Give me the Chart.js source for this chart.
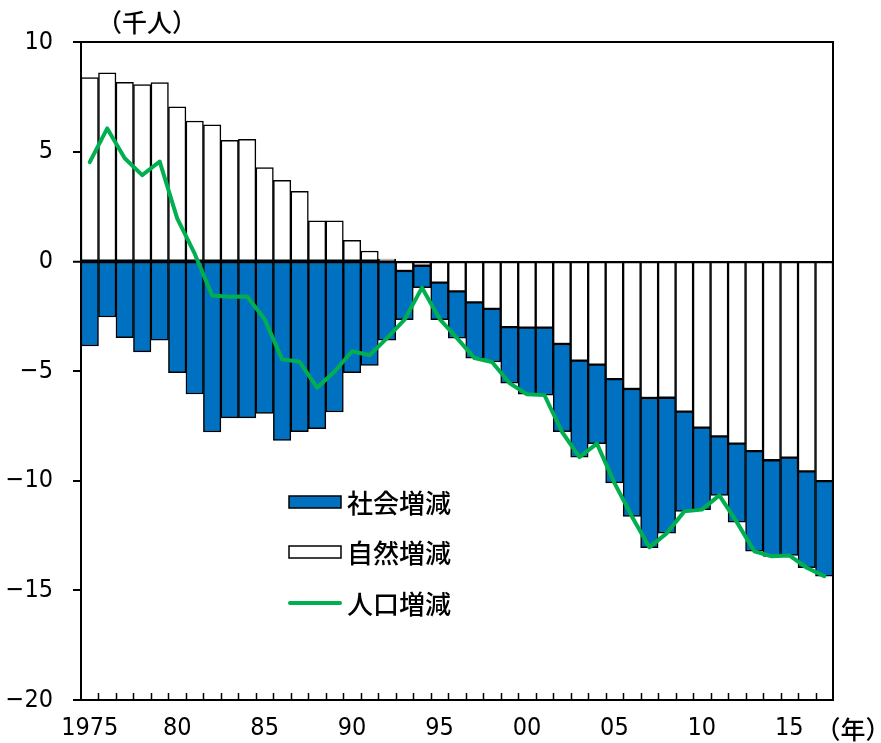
<!DOCTYPE html>
<html>
<head>
<meta charset="utf-8">
<script src="https://cdn.jsdelivr.net/npm/chart.js@4/dist/chart.umd.min.js"></script>
<style>
html,body{margin:0;padding:0;background:#fff;}
canvas{display:block;}
</style>
</head>
<body>
<canvas id="c" width="881" height="743"></canvas>
<script>
const years = [1975,1976,1977,1978,1979,1980,1981,1982,1983,1984,1985,1986,1987,1988,1989,1990,1991,1992,1993,1994,1995,1996,1997,1998,1999,2000,2001,2002,2003,2004,2005,2006,2007,2008,2009,2010,2011,2012,2013,2014,2015,2016,2017];
const xTickLabels = ['1975','','','','','80','','','','','85','','','','','90','','','','','95','','','','','00','','','','','05','','','','','10','','','','','15','',''];
const naturalChange = [8.38,8.6,8.16,8.06,8.15,7.04,6.4,6.22,5.52,5.56,4.27,3.69,3.19,1.85,1.85,0.96,0.47,0.1,-0.44,-0.2,-0.97,-1.37,-1.87,-2.17,-3.0,-3.02,-3.02,-3.77,-4.53,-4.71,-5.37,-5.82,-6.23,-6.22,-6.85,-7.58,-7.98,-8.31,-8.65,-9.07,-8.95,-9.58,-10.02];
const socialChange = [-3.86,-2.54,-3.48,-4.13,-3.6,-5.08,-6.05,-7.78,-7.14,-7.14,-6.93,-8.16,-7.77,-7.63,-6.87,-5.08,-4.74,-3.6,-2.22,-1.0,-1.69,-2.13,-2.54,-2.42,-2.55,-3.04,-3.08,-4.0,-4.4,-3.6,-4.73,-5.81,-6.83,-6.17,-4.55,-3.74,-2.69,-3.58,-4.57,-4.38,-4.46,-4.39,-4.33];
const populationChange = [4.52,6.06,4.7,3.93,4.55,1.96,0.35,-1.56,-1.62,-1.6,-2.64,-4.47,-4.58,-5.76,-5.02,-4.1,-4.28,-3.5,-2.66,-1.2,-2.62,-3.5,-4.41,-4.59,-5.55,-6.06,-6.1,-7.77,-8.93,-8.31,-10.1,-11.63,-13.04,-12.39,-11.4,-11.32,-10.67,-11.89,-13.22,-13.45,-13.41,-13.97,-14.35];
const yTicks = [10,5,0,-5,-10,-15,-20];
const legendLabels = ['社会増減','自然増減','人口増減'];
const yUnit = '（千人）';
const xUnit = '（年）';

const NUM_FONT = "'DejaVu Sans','Liberation Sans',sans-serif";
const JP_FONT = "'Noto Sans CJK JP',sans-serif";
const BLUE = '#0070C0';
const GREEN = '#00B050';

const decor = {
  id: 'decor',
  afterDatasetsDraw(chart) {
    const ctx = chart.ctx;
    const a = chart.chartArea;
    const xs = chart.scales.x;
    ctx.save();
    ctx.strokeStyle = '#000';
    ctx.lineWidth = 2;
    ctx.beginPath();
    ctx.moveTo(a.left, a.top); ctx.lineTo(a.right, a.top); ctx.lineTo(a.right, a.bottom);
    ctx.stroke();
    ctx.lineWidth = 1.5;
    ctx.beginPath();
    for (let i = 1; i < years.length; i++) {
      const x = Math.round(xs.getPixelForValue(i - 0.5)) + 0.5;
      ctx.moveTo(x, a.bottom);
      ctx.lineTo(x, a.bottom - 7);
    }
    ctx.stroke();
    const lx = 289, lw = 52;
    const rows = [502, 552, 603];
    ctx.textBaseline = 'middle';
    ctx.textAlign = 'left';
    ctx.fillStyle = BLUE;
    ctx.fillRect(lx, rows[0] - 6, lw, 12);
    ctx.strokeStyle = '#000'; ctx.lineWidth = 1.5;
    ctx.strokeRect(lx, rows[0] - 6, lw, 12);
    ctx.fillStyle = '#fff';
    ctx.fillRect(lx, rows[1] - 6, lw, 12);
    ctx.strokeRect(lx, rows[1] - 6, lw, 12);
    ctx.strokeStyle = GREEN; ctx.lineWidth = 4; ctx.lineCap = 'round';
    ctx.beginPath(); ctx.moveTo(lx + 1, rows[2]); ctx.lineTo(lx + lw - 1, rows[2]); ctx.stroke();
    ctx.fillStyle = '#000';
    ctx.font = '500 26px ' + JP_FONT;
    legendLabels.forEach((t, i) => ctx.fillText(t, 347, rows[i] + 1));
    ctx.font = '500 25px ' + JP_FONT;
    ctx.textAlign = 'center';
    ctx.fillText(yUnit, 147, 22);
    ctx.fillText(xUnit, 853, 729);
    ctx.restore();
  }
};

new Chart(document.getElementById('c'), {
  data: {
    labels: years,
    datasets: [
      {
        type: 'line', label: legendLabels[2], data: populationChange,
        borderColor: GREEN, borderWidth: 4, pointRadius: 0, tension: 0,
        fill: false, borderJoinStyle: 'round', borderCapStyle: 'round'
      },
      {
        type: 'bar', label: legendLabels[1], data: naturalChange,
        backgroundColor: '#fff', borderColor: '#000', borderWidth: 1.5,
        borderSkipped: false, barPercentage: 1, categoryPercentage: 1
      },
      {
        type: 'bar', label: legendLabels[0], data: socialChange,
        backgroundColor: BLUE, borderColor: '#000', borderWidth: 1.5,
        borderSkipped: false, barPercentage: 1, categoryPercentage: 1
      }
    ]
  },
  options: {
    responsive: false,
    animation: false,
    devicePixelRatio: 1,
    layout: { padding: { top: 42, right: 48, left: 0, bottom: 0 } },
    plugins: { legend: { display: false }, tooltip: { enabled: false } },
    scales: {
      x: {
        stacked: true,
        offset: true,
        grid: { display: true, drawOnChartArea: false, drawTicks: false, offset: true },
        border: { display: true, color: '#000', width: 2 },
        ticks: {
          autoSkip: false, maxRotation: 0, minRotation: 0, padding: 13,
          color: '#000', font: { family: NUM_FONT, size: 25, style: 'normal', weight: 'condensed' },
          callback: (v, i) => xTickLabels[i]
        },
        afterFit: s => { s.height = 43; }
      },
      y: {
        stacked: true,
        min: -20, max: 10,
        afterBuildTicks: s => { s.ticks = yTicks.map(v => ({ value: v })); },
        grid: {
          drawOnChartArea: true, drawTicks: true, tickLength: 8, tickWidth: 2, tickColor: '#000',
          color: c => (c.tick && c.tick.value === 0) ? '#000' : 'rgba(0,0,0,0)',
          lineWidth: c => (c.tick && c.tick.value === 0) ? 1.5 : 0
        },
        border: { display: true, color: '#000', width: 2 },
        ticks: {
          padding: 20, color: '#000', font: { family: NUM_FONT, size: 25, style: 'normal', weight: 'condensed' },
          callback: v => (v < 0 ? '\u2212' + Math.abs(v) : String(v))
        },
        afterFit: s => { s.width = 81; }
      }
    }
  },
  plugins: [decor]
});
</script>
</body>
</html>
